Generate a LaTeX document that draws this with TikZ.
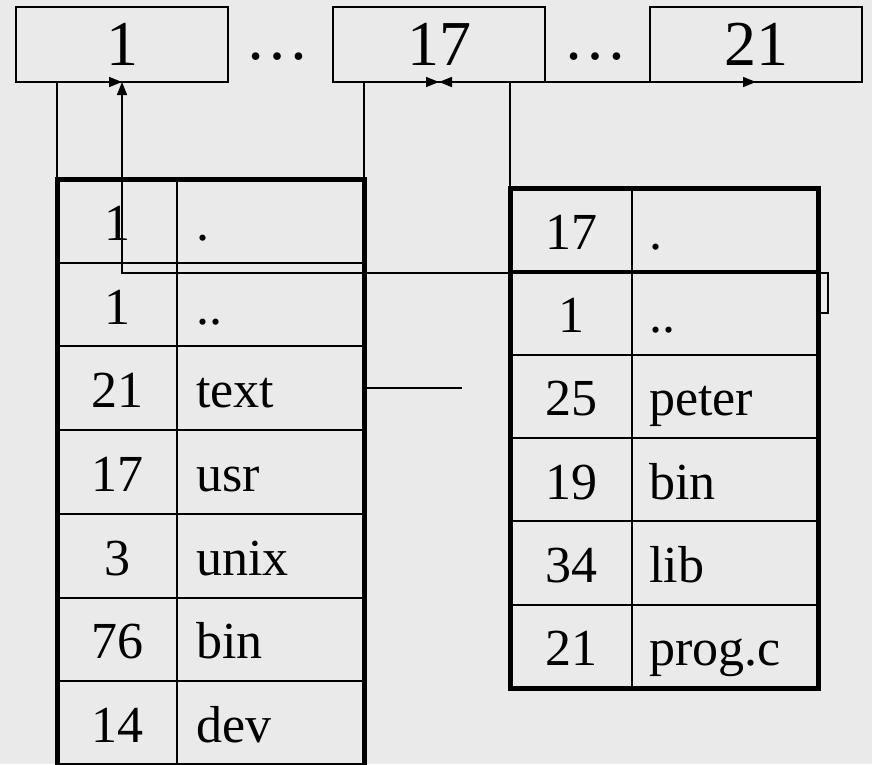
\documentclass[tikz,border=0pt]{standalone}
\usepackage{fontspec}
\setmainfont{Liberation Serif}
\usetikzlibrary{arrows.meta}
\definecolor{slide}{RGB}{234,234,234}

\begin{document}
\begin{tikzpicture}[x=1pt, y=-1pt,
  link/.style={line width=1.5pt, -{Triangle[length=13pt,width=10pt]}},
  wire/.style={line width=1.5pt},
  inode/.style={draw, line width=1.5pt, outer sep=0pt, inner sep=0pt,
    minimum width=212pt, minimum height=75pt, font=\fontsize{64}{70}\selectfont},
  dirbox/.style={draw, line width=5pt, outer sep=0pt, inner sep=0pt},
  entry/.style={font=\fontsize{52}{60}\selectfont, inner sep=0pt, anchor=base},
  fname/.style={entry, anchor=base west}]
\useasboundingbox (0,0) rectangle (872,764);
\fill[slide] (0,0) rectangle (872,764);

% inode table
\node[inode] (b1) at (122,44.5) {1};
\node[inode] (b17) at (439,44.5) {17};
\node[inode] (b21) at (756,44.5) {21};
\node[entry, font=\fontsize{64}{70}\selectfont] (gap1) at (277.5,59) {…};
\node[entry, font=\fontsize{64}{70}\selectfont] (gap2) at (595,59) {…};

% root directory (inode 1)
\node[dirbox, minimum width=307pt, minimum height=586pt] (root) at (210.5,472) {};
\draw[line width=2pt] (177,179) -- (177,765);
\foreach \i in {1,...,6}
  \draw[line width=2pt] (57,179+\i*83.7) -- (364,179+\i*83.7);
\foreach \n/\f [count=\i] in {1/., 1/.., 21/text, 17/usr, 3/unix, 76/bin, 14/dev} {
  \node[entry] (rn\i) at (117,179+\i*83.7-22.4) {\n};
  \node[fname] (rf\i) at (196,179+\i*83.7-22.4) {\f};
}

% /usr directory (inode 17)
\node[dirbox, minimum width=308pt, minimum height=500pt] (usr) at (664,438) {};
\draw[line width=2pt] (632,188) -- (632,688);
\foreach \i in {1,...,5}
  \draw[line width=2pt] (510,188+\i*83.33) -- (818,188+\i*83.33);
\foreach \n/\f [count=\i] in {17/., 1/.., 25/peter, 19/bin, 34/lib, 21/prog.c} {
  \node[entry] (un\i) at (571,188+\i*83.33-22.1) {\n};
  \node[fname] (uf\i) at (649,188+\i*83.33-22.1) {\f};
}

\coordinate (dd) at (818,313);
\coordinate (loop) at (828,273);
\coordinate (textport) at (364,388);
\coordinate (stub) at (462,388);

% links back to the inode table
\draw[link] (root.north west) |- (b1.south);
\draw[link] (root.north east) |- (b17.south);
\draw[link] (usr.north west) |- (b17.south);
\draw[link] (usr.north west) |- (b21.south);
\draw[link] (dd) -| (loop) -| (b1.south);
\draw[wire] (textport) -- (stub);
\end{tikzpicture}
\end{document}
